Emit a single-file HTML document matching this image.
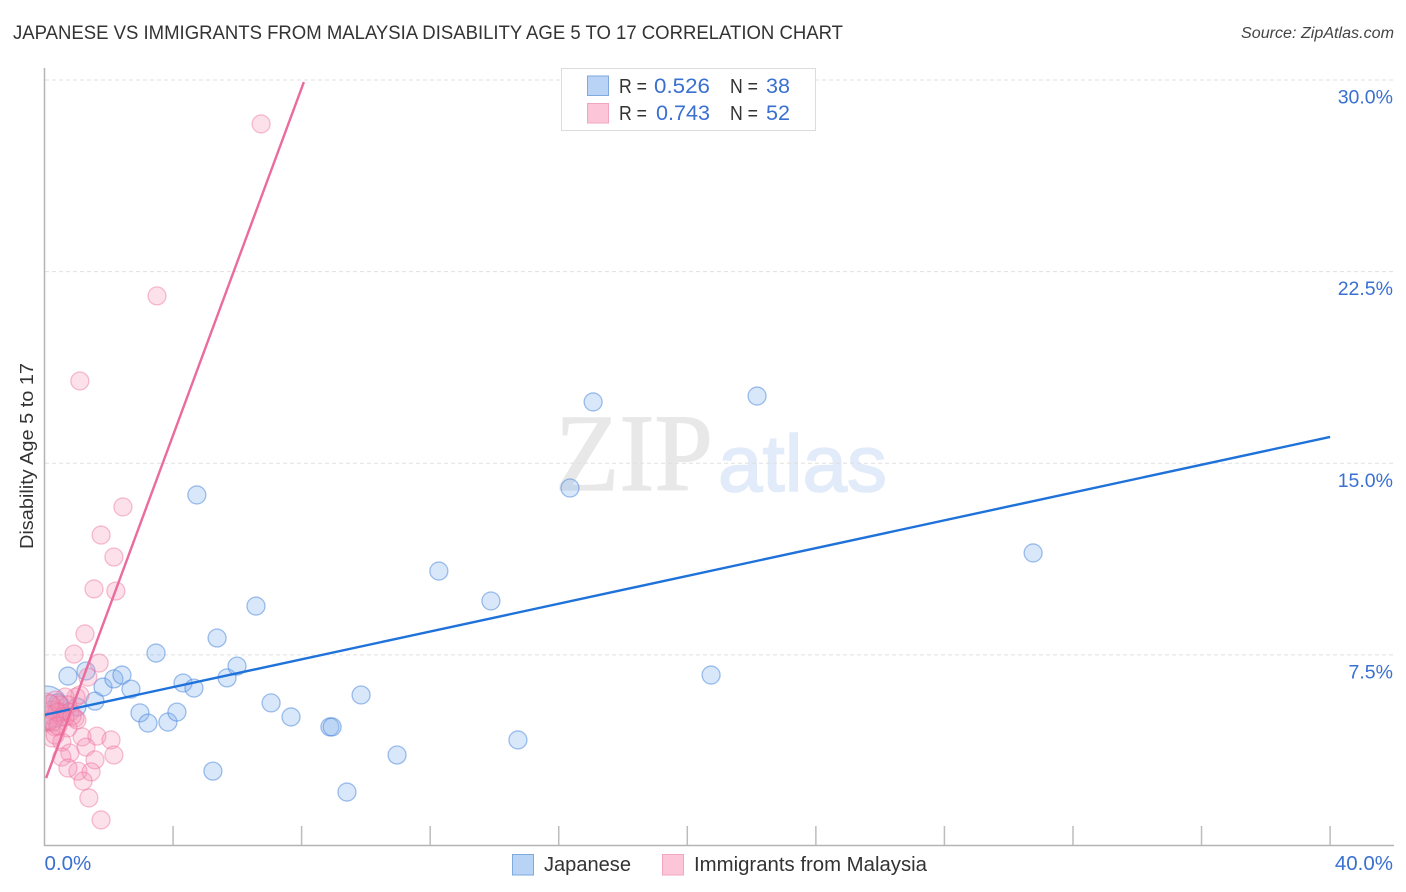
<!DOCTYPE html>
<html>
<head>
<meta charset="utf-8">
<title>Japanese vs Immigrants from Malaysia Disability Age 5 to 17 Correlation Chart</title>
<style>
html,body{margin:0;padding:0;background:#fff;}
svg{display:block;font-family:"Liberation Sans",sans-serif;}
</style>
</head>
<body>
<svg id="chart" width="1406" height="892" viewBox="0 0 1406 892" xmlns="http://www.w3.org/2000/svg">
  <defs><clipPath id="plot-clip"><rect x="45" y="60" width="1350" height="786"/></clipPath></defs>
  <text x="13" y="39" font-size="19.5" fill="#333" textLength="830" lengthAdjust="spacingAndGlyphs">JAPANESE VS IMMIGRANTS FROM MALAYSIA DISABILITY AGE 5 TO 17 CORRELATION CHART</text>
  <text x="1394" y="38" font-size="15.5" font-style="italic" fill="#444" text-anchor="end" textLength="153" lengthAdjust="spacingAndGlyphs">Source: ZipAtlas.com</text>
  <g>
    <text x="555" y="490" font-family="'Liberation Serif',serif" font-size="110" fill="#e8e8e8" stroke="#e8e8e8" stroke-width="1.2" textLength="158" lengthAdjust="spacingAndGlyphs">ZIP</text>
    <text x="718" y="491" font-family="'Liberation Sans',sans-serif" font-size="80" fill="#e2ebf9" stroke="#e2ebf9" stroke-width="1.6" textLength="169" lengthAdjust="spacingAndGlyphs">atlas</text>
  </g>
  <g id="grid"></g>
  <g id="axes"></g>
  <g id="marks" clip-path="url(#plot-clip)"></g>
  <text transform="translate(33,456) rotate(-90)" font-size="18.5" fill="#333" text-anchor="middle" textLength="186" lengthAdjust="spacingAndGlyphs">Disability Age 5 to 17</text>
  <g>
    <rect x="561.5" y="68.5" width="254" height="62" fill="#fff" stroke="#dcdcdc" stroke-width="1"/>
    <rect x="587.5" y="76" width="21" height="19.5" fill="#b8d3f6" stroke="#7eaade" stroke-width="1"/>
    <rect x="587.5" y="103.5" width="21" height="19.5" fill="#fcc6d8" stroke="#f2a5bf" stroke-width="1"/>
    <g font-size="20" fill="#333">
      <text x="619" y="93" textLength="28" lengthAdjust="spacingAndGlyphs">R =</text>
      <text x="654" y="93" fill="#3a70d0" font-size="21" textLength="56" lengthAdjust="spacingAndGlyphs">0.526</text>
      <text x="730" y="93" textLength="28" lengthAdjust="spacingAndGlyphs">N =</text>
      <text x="766" y="93" fill="#3a70d0" font-size="21" textLength="24" lengthAdjust="spacingAndGlyphs">38</text>
      <text x="619" y="120" textLength="28" lengthAdjust="spacingAndGlyphs">R =</text>
      <text x="656" y="120" fill="#3a70d0" font-size="21" textLength="54" lengthAdjust="spacingAndGlyphs">0.743</text>
      <text x="730" y="120" textLength="28" lengthAdjust="spacingAndGlyphs">N =</text>
      <text x="766" y="120" fill="#3a70d0" font-size="21" textLength="24" lengthAdjust="spacingAndGlyphs">52</text>
    </g>
  </g>
  <g>
    <rect x="512.5" y="854.5" width="21" height="20.5" fill="#b8d3f6" stroke="#7eaade" stroke-width="1"/>
    <text x="544" y="871" font-size="20" fill="#333" textLength="87" lengthAdjust="spacingAndGlyphs">Japanese</text>
    <rect x="662.5" y="854.5" width="21" height="20.5" fill="#fcc6d8" stroke="#f2a5bf" stroke-width="1"/>
    <text x="694" y="871" font-size="20" fill="#333" textLength="233" lengthAdjust="spacingAndGlyphs">Immigrants from Malaysia</text>
  </g>
</svg>
<script>
const yTickValues = [7.5, 15, 22.5, 30];
const yTickLabels = ["7.5%", "15.0%", "22.5%", "30.0%"];
const xTickValues = [0, 4, 8, 12, 16, 20, 24, 28, 32, 36, 40];
const xEndValues = [0, 40];
const xEndLabels = ["0.0%", "40.0%"];

const japaneseX = [0.73,1.29,1.82,2.16,2.41,2.69,1.57,1.01,0.42,2.97,3.22,3.84,4.12,3.47,4.31,4.65,5.68,5.99,5.37,6.58,4.74,7.05,7.67,5.24,9.41,8.88,8.95,9.85,10.97,12.27,13.89,14.73,16.35,17.07,20.74,22.17,30.76];
const japaneseY = [6.67,6.87,6.24,6.56,6.71,6.16,5.69,5.46,5.62,5.23,4.83,4.87,5.26,7.57,6.40,6.20,6.60,7.06,8.16,9.41,13.76,5.62,5.07,2.95,2.13,4.68,4.68,5.93,3.58,10.78,9.61,4.17,14.03,17.40,6.71,17.63,11.49];
const malaysiaX = [6.74,3.50,1.10,2.44,1.76,2.16,1.54,2.22,1.26,0.92,1.70,1.35,1.10,0.98,0.64,0.33,0.73,0.23,0.48,0.95,1.01,0.17,0.54,0.33,0.73,0.23,0.54,0.33,1.17,1.63,2.07,1.29,0.79,2.16,0.54,1.57,1.04,1.45,0.73,1.20,1.38,1.76,0.48,0.79,0.11,0.39,0.64,0.26,0.86,0.17,0.42];
const malaysiaY = [28.28,21.55,18.22,13.29,12.19,11.33,10.08,10.00,8.32,7.53,7.18,6.63,5.93,5.85,5.85,5.73,5.54,5.34,5.26,5.03,4.95,5.15,5.07,4.68,4.64,4.25,4.09,4.36,4.29,4.32,4.17,3.89,3.66,3.58,3.50,3.39,2.95,2.92,3.07,2.56,1.90,1.04,5.54,5.26,4.87,5.26,5.07,4.87,5.11,5.58,4.72];
const japaneseLargeX = [0.05];
const japaneseLargeY = [5.42];
const malaysiaLargeX = [0.02];
const malaysiaLargeY = [5.3];
const japaneseTrendX = [0, 40];
const japaneseTrendY = [5.15, 16.03];
const malaysiaTrendX = [0.05, 8.07];
const malaysiaTrendY = [2.68, 29.92];

const NS = 'http://www.w3.org/2000/svg';
const xScale = v => 44.5 + v * 32.14;
const yScale = v => 846.5 - v * 25.55;

function make(parent, tag, attrs) {
  const el = document.createElementNS(NS, tag);
  for (const k in attrs) el.setAttribute(k, attrs[k]);
  parent.appendChild(el);
  return el;
}

const grid = document.getElementById('grid');
const axes = document.getElementById('axes');
const marks = document.getElementById('marks');

yTickValues.forEach((v, i) => {
  const line = make(grid, 'line', {x1: 45, x2: 1394, y1: yScale(v), y2: yScale(v), stroke: '#e0e0e0', 'stroke-width': 1, 'stroke-dasharray': '4 3'});
  
  
  const label = make(axes, 'text', {x: 1393, y: yScale(v) + 23.5, 'font-size': 19.5, fill: '#3a70d0', 'text-anchor': 'end'});
  label.textContent = yTickLabels[i];
  
  
});

const yAxis = make(axes, 'line', {x1: 44.5, x2: 44.5, y1: 68, y2: 846, stroke: '#b4b4b4', 'stroke-width': 1.5});


const xAxis = make(axes, 'line', {x1: 44, x2: 1394, y1: 845.5, y2: 845.5, stroke: '#b4b4b4', 'stroke-width': 1.5});



xTickValues.slice(1).forEach(v => {
  const tick = make(axes, 'line', {x1: xScale(v), x2: xScale(v), y1: 826, y2: 845, stroke: '#bcbcbc', 'stroke-width': 1.5});
  
  
});

xEndValues.forEach((v, i) => {
  const label = make(axes, 'text', {x: i === 0 ? xScale(v) : 1393, y: 870, 'font-size': 20.5, fill: '#3a70d0', 'text-anchor': i === 0 ? 'start' : 'end'});
  label.textContent = xEndLabels[i];
  
  
});

function drawSeries(xs, ys, fill, stroke, radius, name) {
  xs.forEach((v, i) => {
    const c = make(marks, 'circle', {cx: xScale(v), cy: yScale(ys[i]), r: radius, fill: fill, stroke: stroke, 'stroke-width': 1.3});
    
    
  });
}

const blueFill = 'rgba(125,175,238,0.3)';
const blueStroke = 'rgba(60,125,215,0.48)';
const pinkFill = 'rgba(245,145,180,0.28)';
const pinkStroke = 'rgba(235,105,150,0.42)';

drawSeries(japaneseLargeX, japaneseLargeY, blueFill, blueStroke, 22, 'japanese-large-point');
drawSeries(japaneseX, japaneseY, blueFill, blueStroke, 9, 'japanese-point');
drawSeries(malaysiaLargeX, malaysiaLargeY, pinkFill, pinkStroke, 18, 'malaysia-large-point');
drawSeries(malaysiaX, malaysiaY, pinkFill, pinkStroke, 9, 'malaysia-point');

const trendBlue = make(marks, 'line', {x1: xScale(japaneseTrendX[0]), y1: yScale(japaneseTrendY[0]), x2: xScale(japaneseTrendX[1]), y2: yScale(japaneseTrendY[1]), stroke: '#1f72d9', 'stroke-width': 2.4});


const trendPink = make(marks, 'line', {x1: xScale(malaysiaTrendX[0]), y1: yScale(malaysiaTrendY[0]), x2: xScale(malaysiaTrendX[1]), y2: yScale(malaysiaTrendY[1]), stroke: '#ea6b9c', 'stroke-width': 2.4});


</script>
</body>
</html>
